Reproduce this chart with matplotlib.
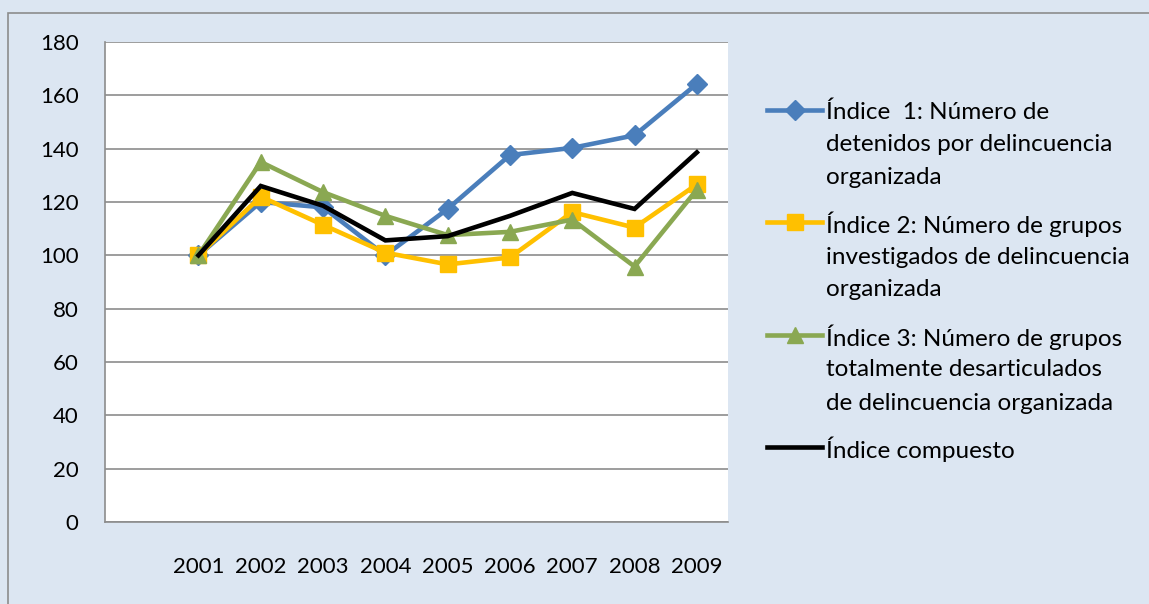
import matplotlib
matplotlib.use("Agg")
import matplotlib.pyplot as plt
from matplotlib.lines import Line2D
from matplotlib.patches import Rectangle

plt.rcParams['font.family'] = ['Lato', 'DejaVu Sans']

years = [2001, 2002, 2003, 2004, 2005, 2006, 2007, 2008, 2009]
indice1 = [100, 120, 118, 100, 117.4, 137.6, 140.3, 145, 164.3]
indice2 = [100, 122, 111.4, 101, 96.6, 99.2, 116.2, 110.4, 126.6]
indice3 = [100, 135, 123.7, 114.8, 107.6, 108.8, 113.4, 95.8, 124.6]
compuesto = [100, 126, 118.6, 105.6, 107.2, 114.8, 123.4, 117.4, 138.6]

labels = [
    "Índice  1: Número de\ndetenidos por delincuencia\norganizada",
    "Índice 2: Número de grupos\ninvestigados de delincuencia\norganizada",
    "Índice 3: Número de grupos\ntotalmente desarticulados\nde delincuencia organizada",
    "Índice compuesto",
]
colors = ["#4A7EBB", "#FFC000", "#8AA852", "#000000"]
markers = ["D", "s", "^", None]
msizes = [10, 11, 12, 0]
series = [indice1, indice2, indice3, compuesto]

W, H = 1149, 604
fig = plt.figure(figsize=(W / 100, H / 100), dpi=100)
fig.patch.set_facecolor("#DCE6F2")
fig.add_artist(Rectangle((8 / W, -0.1), 1.2, 1 - 13 / H + 0.1, transform=fig.transFigure,
                         fill=False, edgecolor="#8C8C8C", linewidth=1.2))

ax = fig.add_axes([105 / W, 1 - 522 / H, (728 - 105) / W, (522 - 42) / H])
ax.set_facecolor("white")

for vals, c, m, ms in zip(series, colors, markers, msizes):
    ax.plot(years, vals, color=c, linewidth=3.3, marker=m, markersize=ms,
            markeredgecolor=c, markerfacecolor=c, solid_joinstyle="miter")

ax.set_xlim(1999.5, 2009.5)
ax.set_ylim(0, 180)
ax.set_yticks(range(0, 181, 20))
ax.set_xticks(years)
ax.set_xticklabels([str(y) for y in years])
ax.yaxis.grid(True, color="#8C8C8C", linewidth=1.2)
ax.set_axisbelow(True)
for s in ["top", "right"]:
    ax.spines[s].set_visible(False)
for s in ["left", "bottom"]:
    ax.spines[s].set_color("#8C8C8C")
    ax.spines[s].set_linewidth(1.2)
ax.tick_params(axis="both", length=0, labelsize=16, colors="black")
ax.tick_params(axis="y", pad=19)
ax.tick_params(axis="x", pad=25)

# Legend drawn manually so the handle aligns with the first text line
entry_y = [110, 222, 335, 447]
line_h = 33
for lab, c, m, ms, y in zip(labels, colors, markers, msizes, entry_y):
    yf = 1 - y / H
    fig.add_artist(Line2D([767 / W, 822 / W], [yf, yf], transform=fig.transFigure,
                          color=c, linewidth=3.3))
    if m is not None:
        fig.add_artist(Line2D([795 / W], [yf], transform=fig.transFigure,
                              color=c, marker=m, markersize=ms, linestyle="none"))
    for i, ln in enumerate(lab.split("\n")):
        fig.text(826 / W, 1 - (y + i * line_h) / H, ln, fontsize=17.5,
                 va="center_baseline", ha="left", color="black")

fig.savefig("out.png", dpi=100, facecolor=fig.get_facecolor())
